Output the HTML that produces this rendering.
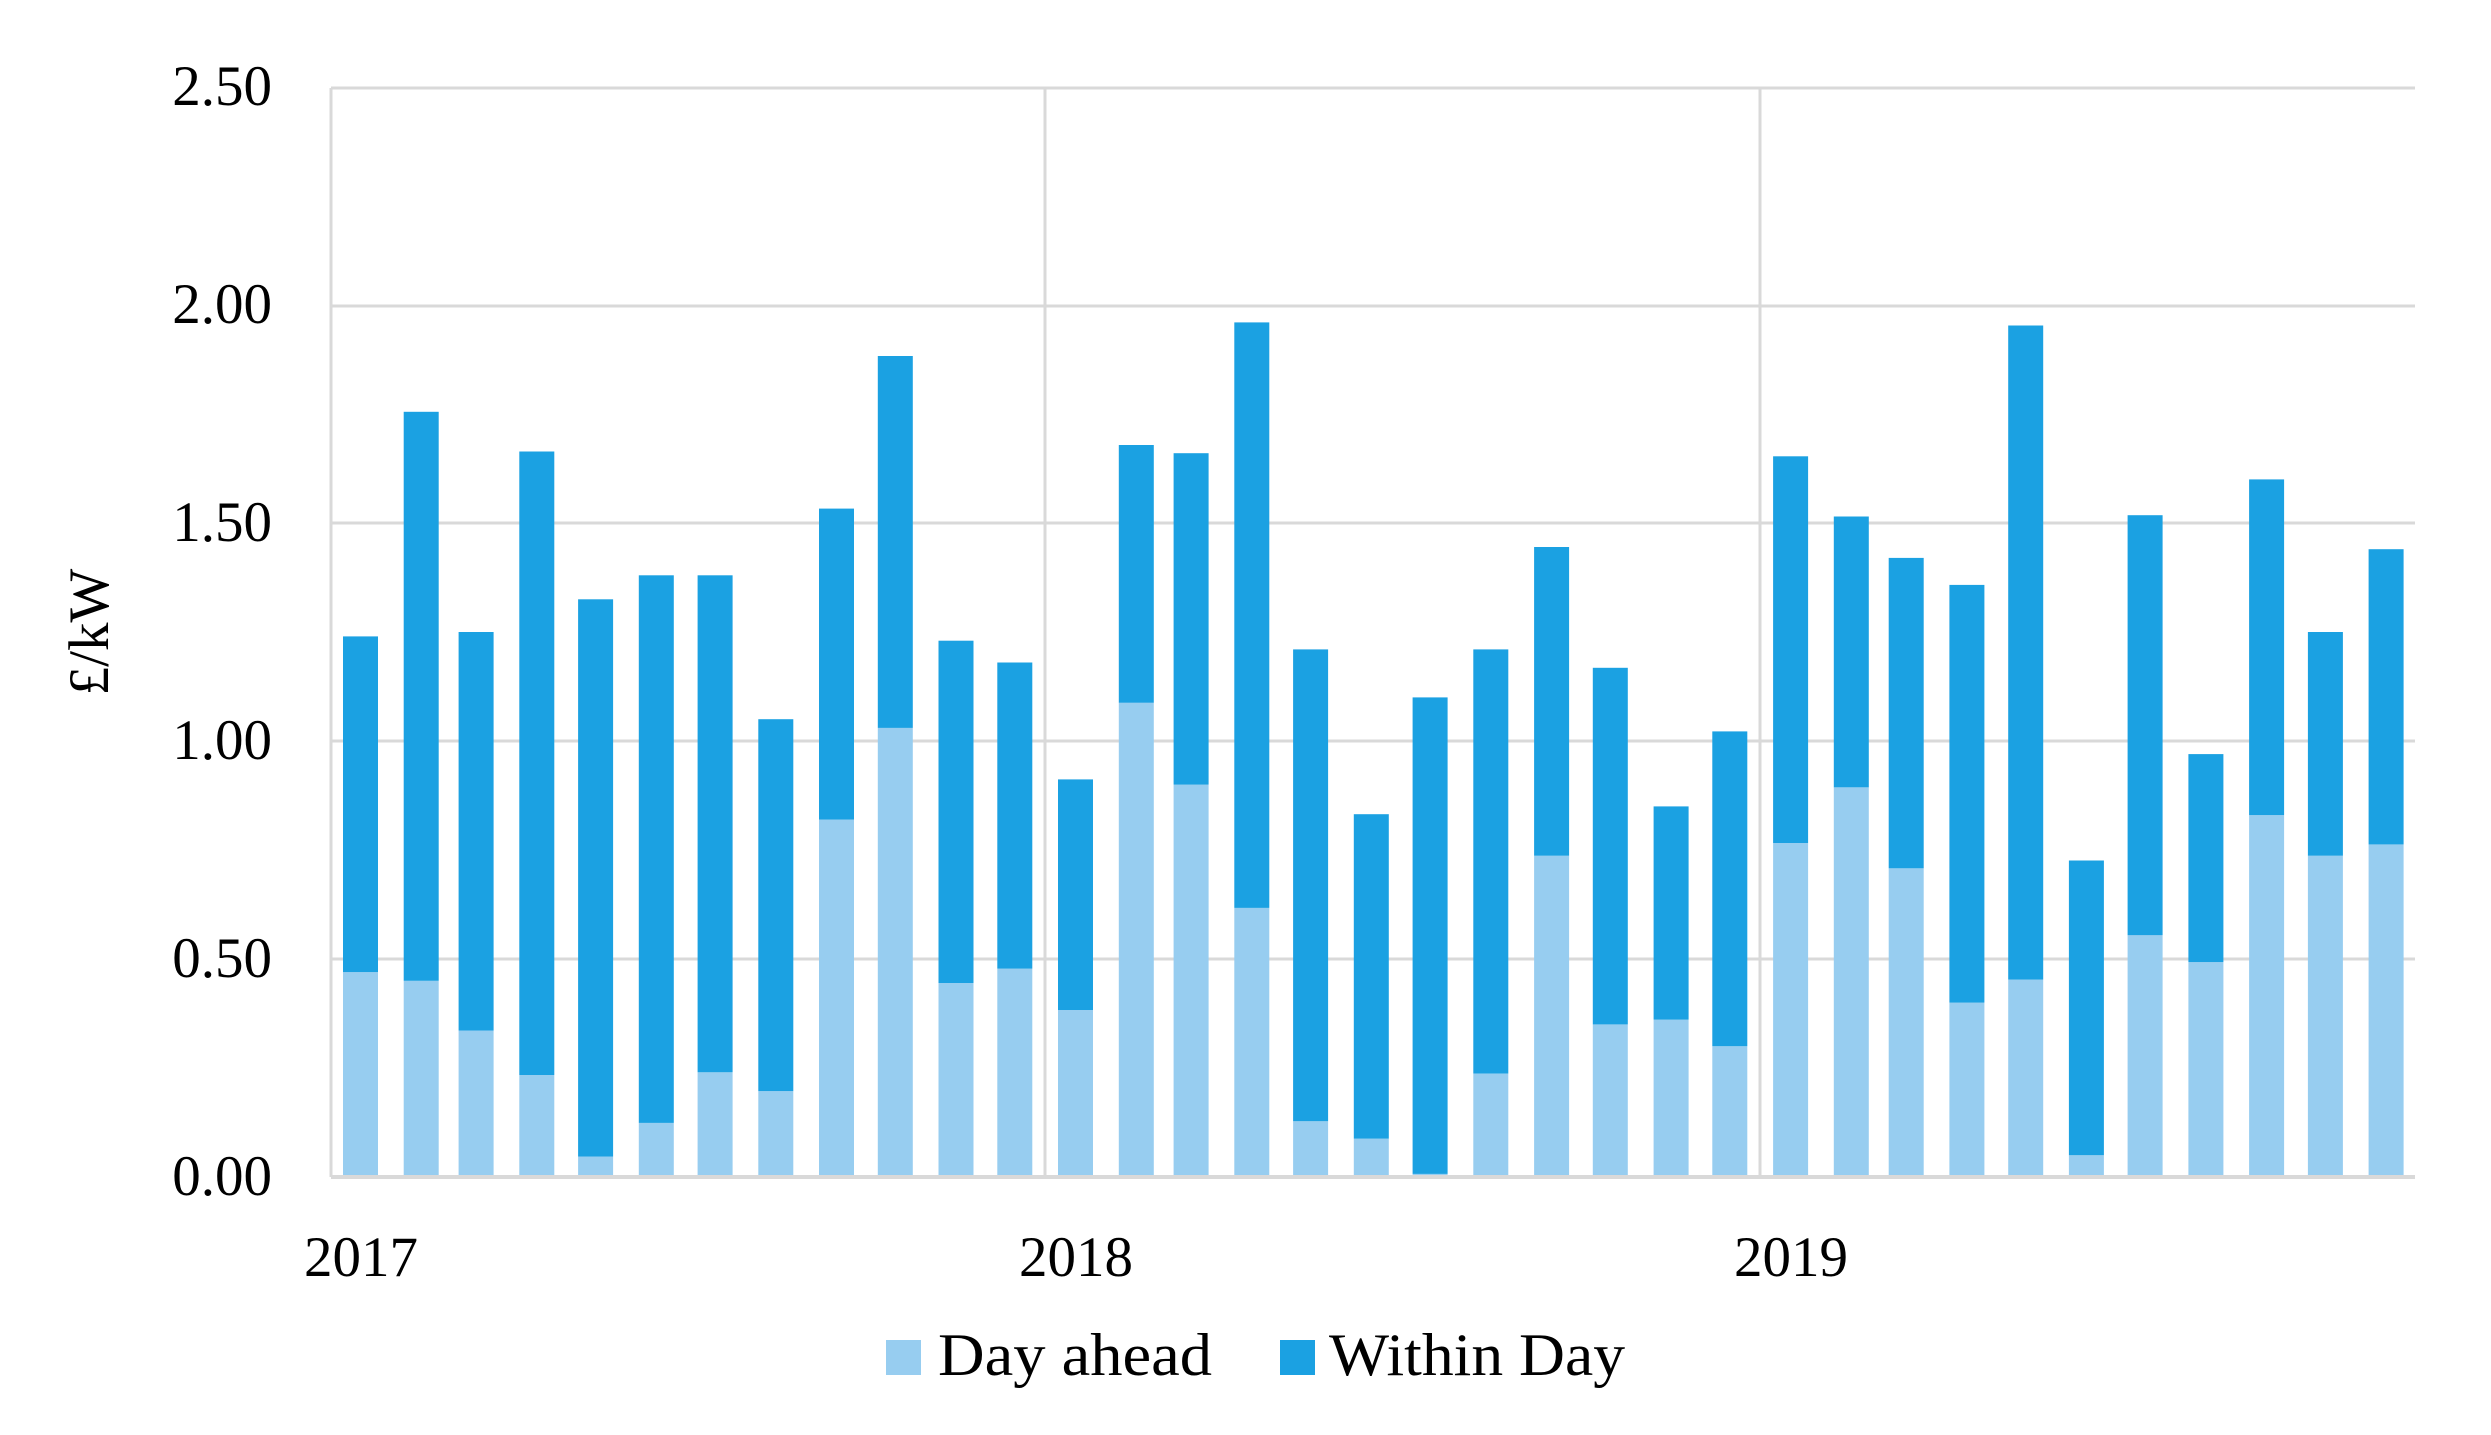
<!DOCTYPE html>
<html><head><meta charset="utf-8"><style>html,body{margin:0;padding:0;background:#fff}svg{display:block}</style></head>
<body>
<svg id="c" width="2491" height="1435" xmlns="http://www.w3.org/2000/svg" font-family="'Liberation Serif', serif" fill="#000">
<rect width="2491" height="1435" fill="#fff"/>
<g id="grid" stroke="#d9d9d9" stroke-width="3">
<line x1="331" y1="88" x2="2415" y2="88"/>
<line x1="331" y1="306" x2="2415" y2="306"/>
<line x1="331" y1="523" x2="2415" y2="523"/>
<line x1="331" y1="741" x2="2415" y2="741"/>
<line x1="331" y1="959" x2="2415" y2="959"/>
<line x1="1045" y1="88" x2="1045" y2="1177"/>
<line x1="1760" y1="88" x2="1760" y2="1177"/>
<line x1="331" y1="88" x2="331" y2="1177"/>
</g>
<g id="bars"></g>
<line x1="331" y1="1177" x2="2415" y2="1177" stroke="#d9d9d9" stroke-width="4"/>
<g font-size="57" text-anchor="end">
<text x="272" y="105">2.50</text>
<text x="272" y="323">2.00</text>
<text x="272" y="541">1.50</text>
<text x="272" y="759">1.00</text>
<text x="272" y="977">0.50</text>
<text x="272" y="1195">0.00</text>
</g>
<g font-size="57" text-anchor="middle">
<text x="361" y="1276">2017</text>
<text x="1076" y="1276">2018</text>
<text x="1791" y="1276">2019</text>
</g>
<text transform="translate(108,632) rotate(-90)" font-size="57" text-anchor="middle">£/kW</text>
<rect x="886" y="1340" width="35" height="35" fill="#97cdf0"/>
<text x="938" y="1375" font-size="60" textLength="274" lengthAdjust="spacingAndGlyphs">Day ahead</text>
<rect x="1280" y="1340" width="35" height="35" fill="#1ba1e2"/>
<text x="1329" y="1375" font-size="60" textLength="296" lengthAdjust="spacingAndGlyphs">Within Day</text>
</svg>
<script>
var da=[0.47,0.45,0.336,0.234,0.047,0.124,0.24,0.197,0.82,1.03,0.445,0.478,0.383,1.088,0.90,0.617,0.128,0.088,0.007,0.237,0.737,0.35,0.361,0.30,0.766,0.894,0.708,0.40,0.453,0.05,0.555,0.493,0.83,0.737,0.763];
var tot=[1.24,1.755,1.25,1.664,1.325,1.38,1.38,1.05,1.533,1.883,1.23,1.18,0.912,1.679,1.66,1.96,1.21,0.832,1.10,1.21,1.445,1.168,0.85,1.022,1.653,1.515,1.42,1.358,1.953,0.726,1.518,0.97,1.60,1.25,1.44];
var g=document.getElementById('bars'),s='',ns='http://www.w3.org/2000/svg';
var t0=Date.UTC(2017,0,1);
for(var i=0;i<35;i++){
 var d=(Date.UTC(2017,i,1)-t0)/86400000;
 var x=343+d*1.959;
 var y0=1177,yl=y0-da[i]*436,yt=y0-tot[i]*436;
 s+='<rect x="'+x.toFixed(1)+'" y="'+yl.toFixed(1)+'" width="35" height="'+(y0-yl).toFixed(1)+'" fill="#97cdf0"/>';
 s+='<rect x="'+x.toFixed(1)+'" y="'+yt.toFixed(1)+'" width="35" height="'+(yl-yt).toFixed(1)+'" fill="#1ba1e2"/>';
}
g.innerHTML=s;
</script>
</body></html>
